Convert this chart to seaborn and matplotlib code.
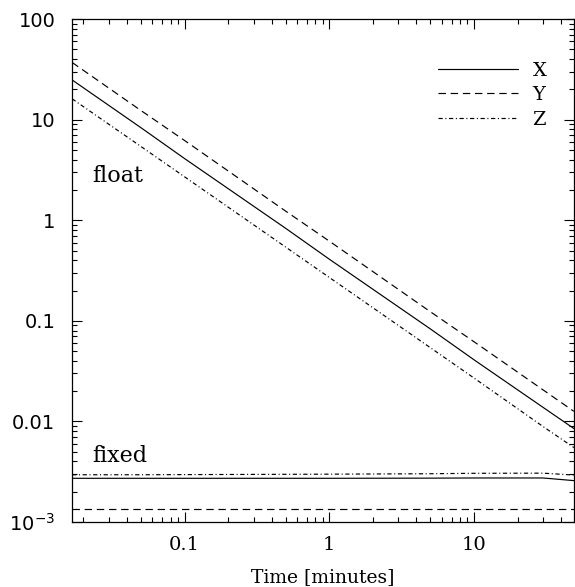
import matplotlib
matplotlib.use('Agg')
import matplotlib.pyplot as plt
import matplotlib.ticker as mticker
import numpy as np
import pandas as pd
import seaborn as sns

# time grid [minutes]
t = [0.0167, 0.05, 0.1, 0.5, 1, 5, 10, 30, 49]

# "float" case
x_float = [24.8, 8.3, 4.1, 0.83, 0.41, 0.083, 0.041, 0.0138, 0.0085]
y_float = [37.0, 12.3, 6.2, 1.23, 0.62, 0.123, 0.062, 0.0206, 0.0126]
z_float = [16.1, 5.4, 2.7, 0.54, 0.27, 0.054, 0.027, 0.0089, 0.0055]

# "fixed" case
x_fixed = [0.00272, 0.00272, 0.00272, 0.00272, 0.00272, 0.00273, 0.00274, 0.00274, 0.00258]
y_fixed = [0.00135, 0.00135, 0.00135, 0.00135, 0.00135, 0.00135, 0.00135, 0.00135, 0.00135]
z_fixed = [0.00295, 0.00295, 0.00296, 0.00298, 0.00299, 0.00302, 0.00305, 0.00306, 0.00293]

labels = ['X', 'Y', 'Z']
yticks = [1e-3, 0.01, 0.1, 1, 10, 100]
yticklabels = [r'$10^{-3}$', '0.01', '0.1', '1', '10', '100']
xticks = [0.1, 1, 10]
xticklabels = ['0.1', '1', '10']

sns.set_theme(style='ticks', rc={'text.color': 'black', 'axes.labelcolor': 'black',
                                 'xtick.color': 'black', 'ytick.color': 'black'})
plt.rcParams['font.family'] = ['DejaVu Serif']
plt.rcParams['mathtext.fontset'] = 'dejavusans'

fig = plt.figure(figsize=(5.75, 5.87), dpi=100)
ax = fig.add_axes([0.1252, 0.1107, 0.8728, 0.8569])

styles = {
    'X': dict(linestyle='-'),
    'Y': dict(dashes=(6.3, 4)),
    'Z': dict(dashes=(3.6, 2.2, 0.9, 2.2)),
}
lw = 0.85

df_float = pd.DataFrame({'t': t, 'X': x_float, 'Y': y_float, 'Z': z_float})
df_fixed = pd.DataFrame({'t': t, 'X': x_fixed, 'Y': y_fixed, 'Z': z_fixed})

for name in labels:
    sns.lineplot(data=df_float, x='t', y=name, ax=ax, color='black', lw=lw,
                 label=name, **styles[name])
    sns.lineplot(data=df_fixed, x='t', y=name, ax=ax, color='black', lw=lw,
                 label='_nolegend_', **styles[name])

ax.set_xscale('log')
ax.set_yscale('log')
ax.set_xlim(1 / 60, 49)
ax.set_ylim(1e-3, 100)

ax.set_xticks(xticks)
ax.set_xticklabels(xticklabels)
ax.set_yticks(yticks)
ax.set_yticklabels(yticklabels, family='DejaVu Sans')
ax.xaxis.set_minor_locator(mticker.LogLocator(base=10, subs=np.arange(2, 10)))
ax.yaxis.set_minor_locator(mticker.LogLocator(base=10, subs=np.arange(2, 10)))
ax.xaxis.set_minor_formatter(mticker.NullFormatter())
ax.yaxis.set_minor_formatter(mticker.NullFormatter())

ax.tick_params(which='both', direction='in', top=True, right=True, width=0.8, color='black')
ax.tick_params(which='major', length=7.5, labelsize=14)
ax.tick_params(axis='x', which='major', pad=10)
ax.tick_params(axis='y', which='major', pad=12)
ax.tick_params(which='minor', length=3.8)
for s in ax.spines.values():
    s.set_linewidth(0.9)
    s.set_color('black')

ax.set_xlabel('Time [minutes]', fontsize=13.5, labelpad=10)
ax.set_ylabel('')

ax.text(0.0229, 2.4, 'float', fontsize=16, va='baseline')
ax.text(0.0229, 0.00398, 'fixed', fontsize=16, va='baseline')

leg = ax.legend(loc='upper left', bbox_to_anchor=(0.694, 0.95), frameon=False,
                handlelength=4.1, handletextpad=0.77, fontsize=14, labelspacing=0.34)

fig.savefig('out.png', dpi=100, facecolor='white')
